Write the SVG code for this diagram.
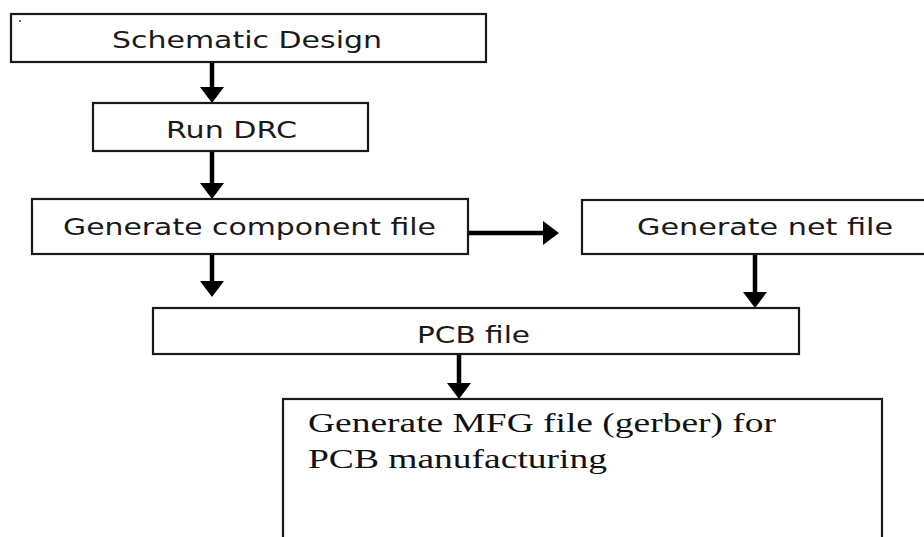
<svg xmlns="http://www.w3.org/2000/svg" width="924" height="537" viewBox="0 0 924 537">
<style>
.box{fill:#fff;stroke:#1a1a1a;stroke-width:2.2}
.lbl{font-family:"DejaVu Sans","Liberation Sans",sans-serif;font-size:23px;fill:#1a1a1a}
.ser{font-family:"Liberation Serif","DejaVu Serif",serif;font-size:28px;fill:#111}
.con{stroke:#000;stroke-width:4.5;fill:none;marker-end:url(#ah)}
</style>
<defs>
<marker id="ah" markerUnits="userSpaceOnUse" viewBox="0 0 16 24" markerWidth="16" markerHeight="24" refX="1" refY="12" orient="auto">
<path d="M0,0 L16,12 L0,24 z" fill="#000"/>
</marker>
</defs>
<rect width="924" height="537" fill="#fff"/>
<g id="connectors">
<line class="con" x1="212" y1="62" x2="212" y2="88"/>
<line class="con" x1="212" y1="151" x2="212" y2="184"/>
<line class="con" x1="212" y1="254" x2="212" y2="282"/>
<line class="con" x1="468" y1="233" x2="544" y2="233"/>
<line class="con" x1="755" y1="254" x2="755" y2="293"/>
<line class="con" x1="459" y1="354" x2="459" y2="384"/>
</g>
<g id="schematic">
<rect class="box" x="11" y="14" width="475" height="48"/>
<circle cx="20" cy="21" r="1" fill="#333"/>
<text class="lbl" x="112" y="48" textLength="270" lengthAdjust="spacingAndGlyphs">Schematic Design</text>
</g>
<g id="drc">
<rect class="box" x="93" y="103" width="275" height="48"/>
<text class="lbl" x="166" y="138" textLength="131" lengthAdjust="spacingAndGlyphs">Run DRC</text>
</g>
<g id="component">
<rect class="box" x="32" y="199" width="436" height="55"/>
<text class="lbl" x="63" y="235" textLength="373" lengthAdjust="spacingAndGlyphs">Generate component file</text>
</g>
<g id="netfile">
<rect class="box" x="582" y="200" width="350" height="54"/>
<text class="lbl" x="637" y="235" textLength="256" lengthAdjust="spacingAndGlyphs">Generate net file</text>
</g>
<g id="pcb">
<rect class="box" x="153" y="308" width="646" height="46"/>
<text class="lbl" x="417" y="343" textLength="113" lengthAdjust="spacingAndGlyphs">PCB file</text>
</g>
<g id="mfg">
<rect class="box" x="283" y="399" width="599" height="150"/>
<text class="ser" x="308" y="432" textLength="468" lengthAdjust="spacingAndGlyphs">Generate MFG file (gerber) for</text>
<text class="ser" x="308" y="468" textLength="299" lengthAdjust="spacingAndGlyphs">PCB manufacturing</text>
</g>
</svg>
